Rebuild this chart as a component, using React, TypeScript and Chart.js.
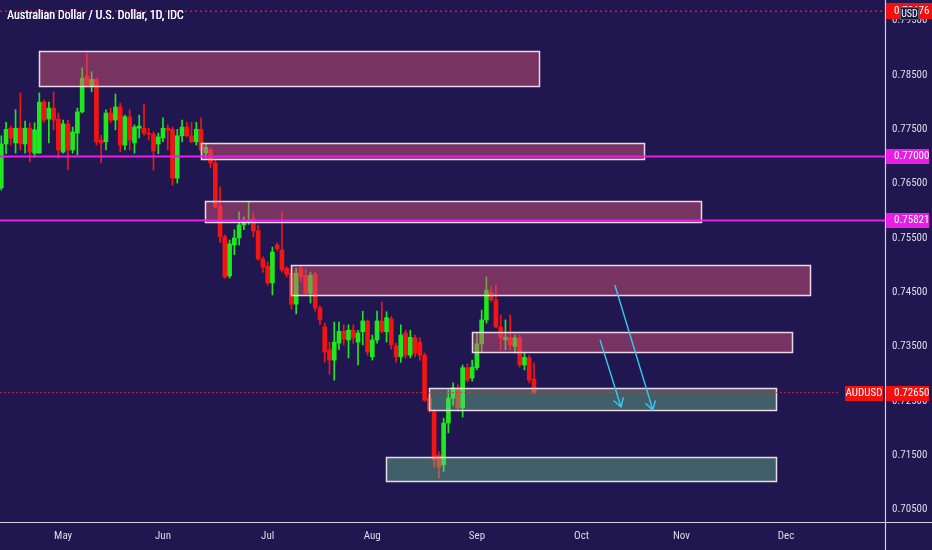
import React, { useEffect, useRef } from "react";
import { Chart, registerables } from "chart.js";

Chart.register(...registerables);

// ---- Daily AUD/USD candles (trading-day index 0 = first visible bar) ----
const opens = [
  0.7642, 0.7723, 0.7752, 0.7725, 0.7752, 0.7723, 0.7752, 0.7706, 0.7706, 0.7800,
  0.7769, 0.7789, 0.7769, 0.7708, 0.7760, 0.7712, 0.7743, 0.7782, 0.7848, 0.7830,
  0.7842, 0.7730, 0.7727, 0.7780, 0.7767, 0.7791, 0.7721, 0.7773, 0.7725, 0.7752,
  0.7752, 0.7743, 0.7741, 0.7723, 0.7734, 0.7752, 0.7750, 0.7660, 0.7738, 0.7754,
  0.7738, 0.7727, 0.7750, 0.7706, 0.7712, 0.7688, 0.7609, 0.7552, 0.7480, 0.7537,
  0.7550, 0.7574, 0.7580, 0.7585, 0.7563, 0.7511, 0.7498, 0.7467, 0.7537, 0.7528,
  0.7494, 0.7485, 0.7428, 0.7494, 0.7481, 0.7448, 0.7483, 0.7421, 0.7386, 0.7344,
  0.7325, 0.7356, 0.7378, 0.7362, 0.7380, 0.7358, 0.7377, 0.7397, 0.7331, 0.7362,
  0.7397, 0.7377, 0.7401, 0.7351, 0.7331, 0.7375, 0.7334, 0.7366, 0.7358, 0.7334,
  0.7255, 0.7229, 0.7150, 0.7132, 0.7209, 0.7255, 0.7274, 0.7237, 0.7311, 0.7292,
  0.7311, 0.7355, 0.7399, 0.7450, 0.7436, 0.7386, 0.7362, 0.7367, 0.7350, 0.7366,
  0.7316, 0.7329, 0.7290,
];
const highs = [
  0.7738, 0.7763, 0.7756, 0.7786, 0.7817, 0.7765, 0.7762, 0.7762, 0.7817, 0.7804,
  0.7800, 0.7819, 0.7780, 0.7767, 0.7767, 0.7754, 0.7789, 0.7863, 0.7890, 0.7856,
  0.7845, 0.7739, 0.7786, 0.7789, 0.7815, 0.7798, 0.7776, 0.7786, 0.7758, 0.7776,
  0.7797, 0.7752, 0.7745, 0.7743, 0.7771, 0.7758, 0.7754, 0.7750, 0.7767, 0.7763,
  0.7763, 0.7763, 0.7771, 0.7723, 0.7716, 0.7693, 0.7644, 0.7555, 0.7546, 0.7565,
  0.7598, 0.7589, 0.7616, 0.7596, 0.7573, 0.7515, 0.7506, 0.7533, 0.7541, 0.7598,
  0.7497, 0.7491, 0.7494, 0.7498, 0.7492, 0.7487, 0.7487, 0.7425, 0.7393, 0.7358,
  0.7395, 0.7395, 0.7390, 0.7390, 0.7390, 0.7380, 0.7415, 0.7399, 0.7371, 0.7415,
  0.7432, 0.7414, 0.7405, 0.7356, 0.7390, 0.7380, 0.7380, 0.7371, 0.7366, 0.7338,
  0.7261, 0.7233, 0.7156, 0.7218, 0.7270, 0.7283, 0.7280, 0.7316, 0.7318, 0.7325,
  0.7375, 0.7417, 0.7478, 0.7460, 0.7463, 0.7408, 0.7399, 0.7408, 0.7371, 0.7371,
  0.7338, 0.7334, 0.7320,
];
const lows = [
  0.7638, 0.7705, 0.7721, 0.7706, 0.7712, 0.7706, 0.7690, 0.7699, 0.7706, 0.7763,
  0.7725, 0.7749, 0.7697, 0.7706, 0.7675, 0.7706, 0.7703, 0.7780, 0.7828, 0.7819,
  0.7721, 0.7688, 0.7712, 0.7762, 0.7749, 0.7708, 0.7712, 0.7712, 0.7706, 0.7734,
  0.7739, 0.7730, 0.7675, 0.7705, 0.7727, 0.7712, 0.7647, 0.7651, 0.7727, 0.7736,
  0.7725, 0.7721, 0.7708, 0.7697, 0.7679, 0.7605, 0.7541, 0.7476, 0.7476, 0.7519,
  0.7537, 0.7565, 0.7575, 0.7552, 0.7509, 0.7487, 0.7463, 0.7445, 0.7526, 0.7487,
  0.7478, 0.7419, 0.7410, 0.7470, 0.7445, 0.7430, 0.7415, 0.7390, 0.7321, 0.7299,
  0.7288, 0.7344, 0.7353, 0.7329, 0.7356, 0.7316, 0.7353, 0.7334, 0.7325, 0.7356,
  0.7375, 0.7358, 0.7345, 0.7321, 0.7321, 0.7329, 0.7329, 0.7331, 0.7325, 0.7249,
  0.7229, 0.7128, 0.7108, 0.7120, 0.7191, 0.7242, 0.7232, 0.7220, 0.7285, 0.7286,
  0.7307, 0.7340, 0.7393, 0.7432, 0.7384, 0.7344, 0.7344, 0.7344, 0.7338, 0.7312,
  0.7307, 0.7283, 0.7263,
];
const closes = [
  0.7723, 0.7750, 0.7734, 0.7752, 0.7723, 0.7752, 0.7708, 0.7749, 0.7800, 0.7767,
  0.7789, 0.7767, 0.7712, 0.7760, 0.7712, 0.7745, 0.7782, 0.7844, 0.7832, 0.7842,
  0.7727, 0.7725, 0.7780, 0.7767, 0.7791, 0.7721, 0.7773, 0.7730, 0.7754, 0.7756,
  0.7743, 0.7741, 0.7710, 0.7736, 0.7752, 0.7748, 0.7660, 0.7738, 0.7754, 0.7738,
  0.7727, 0.7750, 0.7712, 0.7717, 0.7688, 0.7607, 0.7552, 0.7478, 0.7539, 0.7550,
  0.7574, 0.7579, 0.7582, 0.7563, 0.7511, 0.7496, 0.7467, 0.7524, 0.7530, 0.7491,
  0.7483, 0.7428, 0.7485, 0.7478, 0.7448, 0.7481, 0.7421, 0.7399, 0.7340, 0.7325,
  0.7358, 0.7378, 0.7364, 0.7380, 0.7366, 0.7375, 0.7397, 0.7340, 0.7362, 0.7397,
  0.7378, 0.7403, 0.7353, 0.7331, 0.7371, 0.7334, 0.7367, 0.7338, 0.7334, 0.7251,
  0.7233, 0.7141, 0.7128, 0.7209, 0.7255, 0.7274, 0.7237, 0.7311, 0.7288, 0.7312,
  0.7355, 0.7399, 0.7454, 0.7436, 0.7386, 0.7366, 0.7367, 0.7353, 0.7366, 0.7316,
  0.7330, 0.7288, 0.7265,
];

// ---- Axis labels ----
const monthTickIndex = [13, 34, 56, 78, 100, 122, 143, 165];
const monthTickLabels = ["May", "Jun", "Jul", "Aug", "Sep", "Oct", "Nov", "Dec"];
const priceTicks = [0.705, 0.715, 0.725, 0.735, 0.745, 0.755, 0.765, 0.775, 0.785, 0.795];

// ---- Horizontal levels ----
const levelPrices = [0.77, 0.75821];
const lastPrice = 0.7265;
const topMarkPrice = 0.79676;
const symbolName = "AUDUSD";
const currencyName = "USD";
const titleText = "Australian Dollar / U.S. Dollar, 1D, IDC";

// ---- Zones (x in bar index, y in price) ----
const boxStart = [7.93, 41.99, 42.83, 60.9, 98.97, 89.93, 80.9];
const boxEnd = [113.06, 135.1, 147.1, 170.0, 166.3, 162.9, 162.9];
const boxTop = [0.78942, 0.77248, 0.7618, 0.75001, 0.73767, 0.72736, 0.71465];
const boxBottom = [0.78297, 0.76953, 0.75793, 0.74448, 0.73399, 0.7233, 0.71023];
const boxKind = ["supply", "supply", "supply", "supply", "supply", "demand", "demand"];

// ---- Arrows ----
const arrowFromX = [125.9, 129.0];
const arrowFromY = [0.7362, 0.74633];
const arrowToX = [130.3, 137.0];
const arrowToY = [0.72386, 0.7233];

const X_MIN = -0.273;
const X_MAX = 185.8;
const Y_MIN = 0.70268;
const Y_MAX = 0.79881;
const LAST_LINE_END = 176.3;

const BG = "#201750";
const UP = "#1ee81e";
const DOWN = "#f51414";
const MAGENTA = "#e61ee6";
const TAG_RED = "#f01010";
const TEXT = "#dcdce8";
const FONT = '"Liberation Sans Narrow", "Roboto Condensed", "DejaVu Sans Condensed", "Liberation Sans", sans-serif';

export default function App() {
  const ref = useRef<HTMLCanvasElement>(null);

  useEffect(() => {
    document.body.style.margin = "0";
    const canvas = ref.current!;
    const idx = opens.map((_, i) => i);
    const colors = idx.map((i) => (closes[i] >= opens[i] ? UP : DOWN));

    const drawTag = (
      c: CanvasRenderingContext2D, x: number, yc: number, w: number, h: number,
      bg: string, text: string, align: "left" | "center"
    ) => {
      c.fillStyle = bg;
      c.fillRect(x, Math.round(yc - h / 2), w, h);
      c.fillStyle = "#ffffff";
      c.font = `11px ${FONT}`;
      c.textBaseline = "middle";
      c.textAlign = align;
      c.fillText(text, align === "left" ? x + 8 : x + w / 2, yc + 0.5);
    };

    const overlay = {
      id: "tvOverlay",
      beforeDraw(chart: any) {
        const c = chart.ctx;
        c.save();
        c.fillStyle = BG;
        c.fillRect(0, 0, chart.width, chart.height);
        c.restore();
      },
      afterDatasetDraw(chart: any, args: any) {
        if (args.index !== 1) return;
        const c = chart.ctx;
        const xs = chart.scales.x;
        const ys = chart.scales.y;
        c.save();
        boxStart.forEach((_, i) => {
          const x1 = Math.round(xs.getPixelForValue(boxStart[i])) + 0.5;
          const x2 = Math.round(xs.getPixelForValue(boxEnd[i])) + 0.5;
          const y1 = Math.round(ys.getPixelForValue(boxTop[i])) + 0.5;
          const y2 = Math.round(ys.getPixelForValue(boxBottom[i])) + 0.5;
          c.fillStyle = boxKind[i] === "supply" ? "rgba(222,84,118,0.46)" : "rgba(112,196,138,0.42)";
          c.fillRect(x1, y1, x2 - x1, y2 - y1);
          c.strokeStyle = "rgba(248,232,242,0.92)";
          c.lineWidth = 1.5;
          c.strokeRect(x1, y1, x2 - x1, y2 - y1);
        });
        c.restore();
      },
      afterDraw(chart: any) {
        const c = chart.ctx;
        const xs = chart.scales.x;
        const ys = chart.scales.y;
        const area = chart.chartArea;
        c.save();
        // arrows
        c.strokeStyle = "#37c8f2";
        c.lineWidth = 1.4;
        arrowFromX.forEach((_, i) => {
          const x1 = xs.getPixelForValue(arrowFromX[i]);
          const y1 = ys.getPixelForValue(arrowFromY[i]);
          const x2 = xs.getPixelForValue(arrowToX[i]);
          const y2 = ys.getPixelForValue(arrowToY[i]);
          c.beginPath();
          c.moveTo(x1, y1);
          c.lineTo(x2, y2);
          const ang = Math.atan2(y2 - y1, x2 - x1);
          const L = 10;
          c.moveTo(x2 - L * Math.cos(ang - 0.55), y2 - L * Math.sin(ang - 0.55));
          c.lineTo(x2, y2);
          c.lineTo(x2 - L * Math.cos(ang + 0.55), y2 - L * Math.sin(ang + 0.55));
          c.stroke();
        });
        // axis lines
        c.strokeStyle = "#d2d2de";
        c.lineWidth = 1.2;
        c.beginPath();
        c.moveTo(Math.round(area.right) + 0.5, 0);
        c.lineTo(Math.round(area.right) + 0.5, chart.height);
        c.moveTo(0, Math.round(area.bottom) + 0.5);
        c.lineTo(chart.width, Math.round(area.bottom) + 0.5);
        c.stroke();
        // tags
        const tagX = Math.round(area.right) + 1;
        levelPrices.forEach((p) => {
          drawTag(c, tagX, Math.round(ys.getPixelForValue(p)), 43, 15, MAGENTA, p.toFixed(5), "left");
        });
        const yl = Math.round(ys.getPixelForValue(lastPrice));
        drawTag(c, tagX, yl, 43, 15, TAG_RED, lastPrice.toFixed(5), "left");
        drawTag(c, tagX - 41, yl, 38, 15, TAG_RED, symbolName, "center");
        const yt = Math.round(ys.getPixelForValue(topMarkPrice));
        drawTag(c, tagX, yt, 47, 16, TAG_RED, topMarkPrice.toFixed(5), "left");
        // currency box
        c.fillStyle = "#1d1746";
        c.fillRect(tagX + 14, yt - 4, 19, 13);
        c.strokeStyle = "rgba(255,255,255,0.25)";
        c.lineWidth = 1;
        c.strokeRect(tagX + 14.5, yt - 3.5, 18, 12);
        c.fillStyle = "#ffffff";
        c.font = `10px ${FONT}`;
        c.textAlign = "center";
        c.textBaseline = "middle";
        c.fillText(currencyName, tagX + 23.5, yt + 3);
        // title
        c.fillStyle = "#f2f2f8";
        c.font = `12px ${FONT}`;
        c.textAlign = "left";
        c.textBaseline = "middle";
        c.fillText(titleText, 7, 16);
        c.fillText(titleText, 7.3, 16);
        c.restore();
      },
    };

    const chart = new Chart(canvas, {
      type: "bar",
      data: {
        datasets: [
          {
            type: "bar",
            label: "wicks",
            data: idx.map((i) => ({ x: i, y: [lows[i], highs[i]] })) as any,
            backgroundColor: colors,
            barThickness: 1,
            grouped: false,
            order: 5,
          } as any,
          {
            type: "bar",
            label: "bodies",
            data: idx.map((i) => ({ x: i, y: [Math.min(opens[i], closes[i]), Math.max(opens[i], closes[i])] })) as any,
            backgroundColor: colors,
            barThickness: 4,
            minBarLength: 1,
            grouped: false,
            order: 4,
          } as any,
          ...levelPrices.map((p) => ({
            type: "line",
            label: "level",
            data: [{ x: X_MIN, y: p }, { x: X_MAX, y: p }],
            borderColor: MAGENTA,
            borderWidth: 2,
            pointRadius: 0,
            order: 1,
          })) as any,
          {
            type: "line",
            label: "last",
            data: [{ x: X_MIN, y: lastPrice }, { x: LAST_LINE_END, y: lastPrice }],
            borderColor: "rgba(225,40,60,0.85)",
            borderDash: [2, 2],
            borderWidth: 1,
            pointRadius: 0,
            order: 2,
          } as any,
          {
            type: "line",
            label: "top",
            data: [{ x: X_MIN, y: topMarkPrice }, { x: X_MAX, y: topMarkPrice }],
            borderColor: "#e8102a",
            borderDash: [2, 3],
            borderWidth: 1.5,
            pointRadius: 0,
            order: 2,
          } as any,
        ],
      },
      options: {
        responsive: false,
        animation: false,
        devicePixelRatio: 1,
        events: [],
        layout: { padding: 0 },
        plugins: { legend: { display: false }, tooltip: { enabled: false }, title: { display: false } },
        scales: {
          x: {
            type: "linear",
            min: X_MIN,
            max: X_MAX,
            offset: false,
            grid: { display: false, drawTicks: false },
            border: { display: false },
            afterBuildTicks: (s: any) => {
              s.ticks = monthTickIndex.map((v) => ({ value: v }));
            },
            afterFit: (s: any) => {
              s.height = 28;
              s.paddingLeft = 0;
              s.paddingRight = 0;
            },
            ticks: {
              autoSkip: false,
              maxRotation: 0,
              padding: 8,
              color: TEXT,
              font: { family: FONT, size: 11 },
              callback: (v: any) => {
                const k = monthTickIndex.indexOf(Number(v));
                return k >= 0 ? monthTickLabels[k] : "";
              },
            },
          },
          y: {
            type: "linear",
            position: "right",
            min: Y_MIN,
            max: Y_MAX,
            grid: { display: false, drawTicks: false },
            border: { display: false },
            afterBuildTicks: (s: any) => {
              s.ticks = priceTicks.map((v) => ({ value: v }));
            },
            afterFit: (s: any) => {
              s.width = 47;
              s.paddingTop = 0;
              s.paddingBottom = 0;
            },
            ticks: {
              padding: 7,
              color: TEXT,
              font: { family: FONT, size: 11 },
              callback: (v: any) => Number(v).toFixed(5),
            },
          },
        },
      },
      plugins: [overlay],
    } as any);

    return () => chart.destroy();
  }, []);

  return (
    <div style={{ width: 932, height: 550, background: BG }}>
      <canvas ref={ref} width={932} height={550} style={{ display: "block" }} />
    </div>
  );
}
